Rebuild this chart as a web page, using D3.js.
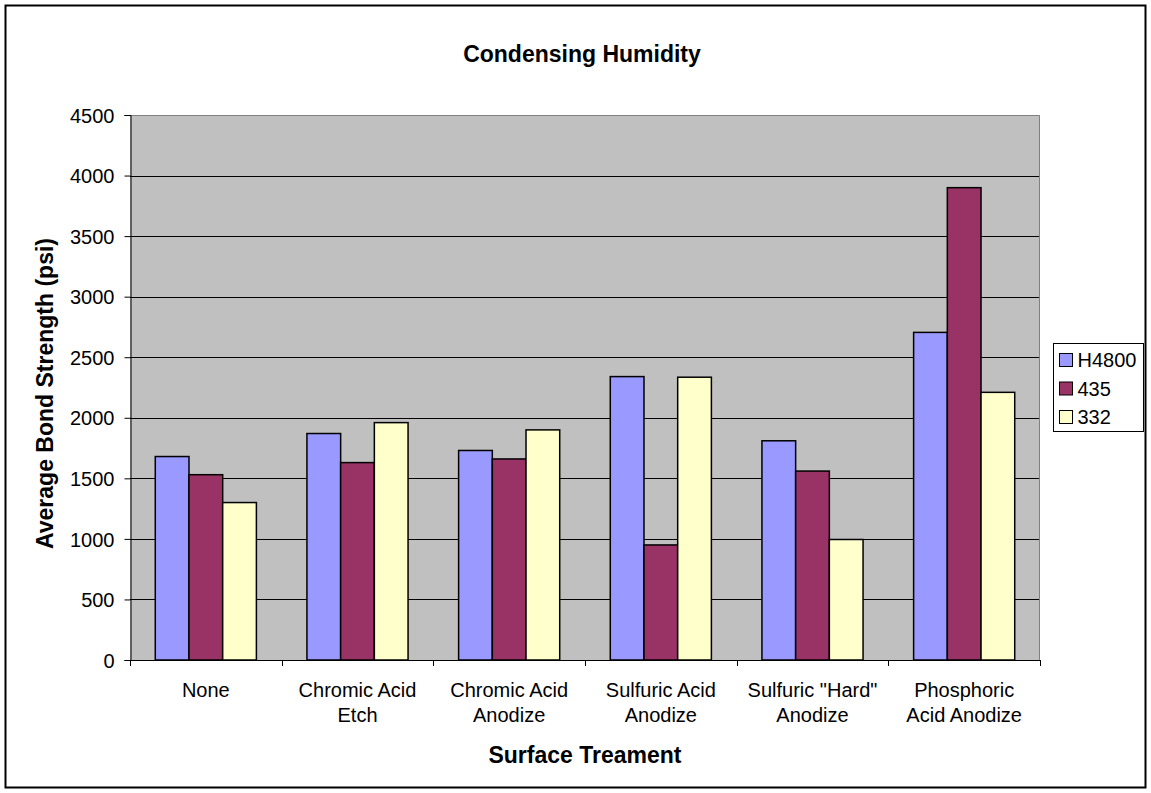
<!DOCTYPE html>
<html>
<head>
<meta charset="utf-8">
<script src="https://cdn.jsdelivr.net/npm/d3@7"></script>
<style>
  html, body { margin: 0; padding: 0; background: #fff; }
  svg { display: block; font-family: "Liberation Sans", Arial, sans-serif; }
</style>
</head>
<body>
<svg id="chart" width="1151" height="793"></svg>
<script>
// Surface treatments (two-line labels) and bond strength per adhesive
const categories = [
  ["None"],
  ["Chromic Acid", "Etch"],
  ["Chromic Acid", "Anodize"],
  ["Sulfuric Acid", "Anodize"],
  ["Sulfuric \"Hard\"", "Anodize"],
  ["Phosphoric", "Acid Anodize"]
];
const seriesNames = ["H4800", "435", "332"];
const h4800 = [1680, 1870, 1730, 2340, 1810, 2705];
const s435 = [1530, 1630, 1660, 950, 1560, 3900];
const s332 = [1300, 1960, 1900, 2335, 995, 2210];
const yTicks = [0, 500, 1000, 1500, 2000, 2500, 3000, 3500, 4000, 4500];
const colors = ["#9999FF", "#993366", "#FFFFCC"];

const seriesValues = [h4800, s435, s332];
const svg = d3.select("#chart");
const FONT = "Liberation Sans, Arial, sans-serif";

// Outer chart frame
svg.append("rect")
  .attr("x", 5.5).attr("y", 5.5)
  .attr("width", 1140).attr("height", 782)
  .attr("fill", "#fff").attr("stroke", "#000").attr("stroke-width", 2);

const plot = { left: 130, top: 115, right: 1040, bottom: 660 };

const x0 = d3.scaleBand()
  .domain(d3.range(categories.length))
  .range([plot.left, plot.right])
  .paddingInner(0).paddingOuter(0);

const x1 = d3.scaleBand()
  .domain(d3.range(seriesNames.length))
  .range([0, x0.bandwidth()])
  .paddingInner(0)
  .paddingOuter(0.75);

const y = d3.scaleLinear().domain([0, 4500]).range([plot.bottom, plot.top]);

// Plot area background
svg.append("rect")
  .attr("x", plot.left).attr("y", plot.top)
  .attr("width", plot.right - plot.left).attr("height", plot.bottom - plot.top)
  .attr("fill", "#C0C0C0");

// Gridlines
svg.append("g")
  .selectAll("line")
  .data(yTicks.filter(t => t > 0 && t < 4500))
  .join("line")
  .attr("x1", plot.left).attr("x2", plot.right)
  .attr("y1", d => Math.round(y(d)) + 0.5).attr("y2", d => Math.round(y(d)) + 0.5)
  .attr("stroke", "#000").attr("stroke-width", 1);

// Plot area top and right edges
svg.append("path")
  .attr("d", `M${plot.left},${plot.top + 0.5}H${plot.right - 0.5}V${plot.bottom}`)
  .attr("fill", "none").attr("stroke", "#808080").attr("stroke-width", 1);

// Bars
const groups = svg.append("g")
  .selectAll("g")
  .data(categories.map((c, i) => i))
  .join("g")
  .attr("transform", i => `translate(${x0(i)},0)`);

groups.selectAll("rect")
  .data(i => seriesValues.map((vals, s) => ({ s, v: vals[i] })))
  .join("rect")
  .attr("x", d => x1(d.s))
  .attr("y", d => y(d.v))
  .attr("width", x1.bandwidth())
  .attr("height", d => y(0) - y(d.v))
  .attr("fill", d => colors[d.s])
  .attr("stroke", "#000")
  .attr("stroke-width", 1.5);

// Y axis
const yAxis = d3.axisLeft(y).tickValues(yTicks).tickSize(6).tickPadding(10).tickFormat(d3.format("d"));
const gy = svg.append("g").attr("transform", `translate(${plot.left + 0.5},0)`).call(yAxis);
gy.attr("font-size", null).attr("font-family", null);
gy.select(".domain").attr("stroke", "#000");
gy.selectAll(".tick line").attr("stroke", "#000");
gy.selectAll(".tick text")
  .attr("fill", "#000")
  .attr("dy", "0.36em")
  .style("font-size", "20px")
  .style("font-family", FONT);

// X axis (ticks at category boundaries)
const xAxisG = svg.append("g");
xAxisG.append("line")
  .attr("x1", plot.left).attr("x2", plot.right)
  .attr("y1", plot.bottom + 0.5).attr("y2", plot.bottom + 0.5)
  .attr("stroke", "#000");
const boundaries = d3.range(categories.length + 1).map(i => i < categories.length ? x0(i) : plot.right);
xAxisG.selectAll("line.tick")
  .data(boundaries)
  .join("line")
  .attr("class", "tick")
  .attr("x1", d => Math.round(d) + 0.5).attr("x2", d => Math.round(d) + 0.5)
  .attr("y1", plot.bottom).attr("y2", plot.bottom + 6)
  .attr("stroke", "#000");

// Category labels
const labels = xAxisG.selectAll("text.cat")
  .data(categories)
  .join("text")
  .attr("class", "cat")
  .attr("text-anchor", "middle")
  .style("font-size", "20px")
  .attr("fill", "#000")
  .attr("transform", (d, i) => `translate(${x0(i) + x0.bandwidth() / 2},${plot.bottom + 37})`);
labels.selectAll("tspan")
  .data(d => d)
  .join("tspan")
  .attr("x", 0)
  .attr("dy", (d, i) => i === 0 ? 0 : 25)
  .text(d => d);

// Titles
svg.append("text")
  .attr("x", 582).attr("y", 62)
  .attr("text-anchor", "middle")
  .style("font-size", "23px").attr("font-weight", "bold")
  .text("Condensing Humidity");

svg.append("text")
  .attr("x", 585).attr("y", 763)
  .attr("text-anchor", "middle")
  .style("font-size", "23px").attr("font-weight", "bold")
  .text("Surface Treament");

svg.append("text")
  .attr("transform", `translate(53,${(plot.top + plot.bottom) / 2 + 6}) rotate(-90)`)
  .attr("text-anchor", "middle")
  .style("font-size", "23px").attr("font-weight", "bold")
  .text("Average Bond Strength (psi)");

// Legend
const legend = svg.append("g").attr("transform", "translate(1053.5,343.5)");
legend.append("rect")
  .attr("width", 90).attr("height", 88)
  .attr("fill", "#fff").attr("stroke", "#000").attr("stroke-width", 1);
const items = legend.selectAll("g.item")
  .data(seriesNames)
  .join("g")
  .attr("class", "item")
  .attr("transform", (d, i) => `translate(6,${16.5 + i * 28.5})`);
items.append("rect")
  .attr("x", 0).attr("y", -6.5)
  .attr("width", 13).attr("height", 13)
  .attr("fill", (d, i) => colors[i])
  .attr("stroke", "#000").attr("stroke-width", 1);
items.append("text")
  .attr("x", 18).attr("y", 7)
  .style("font-size", "20px")
  .text(d => d);
</script>
</body>
</html>
